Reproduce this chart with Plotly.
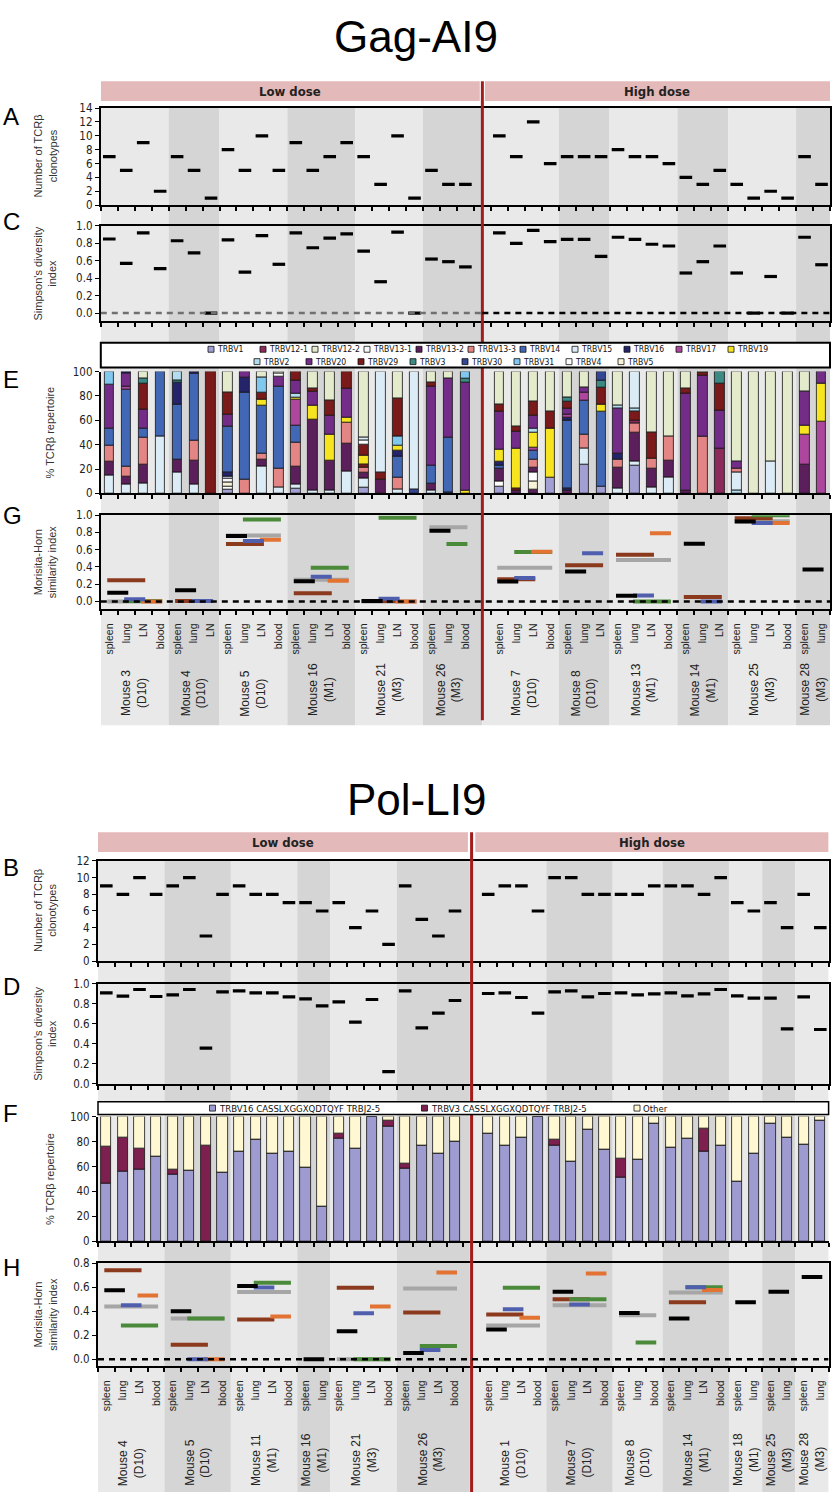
import plotly.graph_objects as go

# ======================= DATA =======================
TRBV_ROW1 = ["TRBV1", "TRBV12-1", "TRBV12-2", "TRBV13-1", "TRBV13-2", "TRBV13-3",
             "TRBV14", "TRBV15", "TRBV16", "TRBV17", "TRBV19"]
TRBV_ROW2 = ["TRBV2", "TRBV20", "TRBV29", "TRBV3", "TRBV30", "TRBV31", "TRBV4", "TRBV5"]

# ---- Gag-AI9 ----
gag_mice = ["Mouse 3", "Mouse 4", "Mouse 5", "Mouse 16", "Mouse 21", "Mouse 26",
            "Mouse 7", "Mouse 8", "Mouse 13", "Mouse 14", "Mouse 25", "Mouse 28"]
gag_times = ["D10", "D10", "D10", "M1", "M3", "M3", "D10", "D10", "M1", "M1", "M3", "M3"]
gag_tissues = [["spleen", "lung", "LN", "blood"], ["spleen", "lung", "LN"],
               ["spleen", "lung", "LN", "blood"], ["spleen", "lung", "LN", "blood"],
               ["spleen", "lung", "LN", "blood"], ["spleen", "lung", "blood"],
               ["spleen", "lung", "LN", "blood"], ["spleen", "lung", "LN"],
               ["spleen", "lung", "LN", "blood"], ["spleen", "lung", "LN"],
               ["spleen", "lung", "LN", "blood"], ["spleen", "lung"]]
gag_n_low = 6

gag_clonotypes = [7, 5, 9, 2, 7, 5, 1, 8, 5, 10, 5, 9, 5, 7, 9, 7, 3, 10, 1, 5, 3, 3,
                  10, 7, 12, 6, 7, 7, 7, 8, 7, 7, 6, 4, 3, 5, 3, 1, 2, 1, 7, 3]
gag_simpson = [0.85, 0.57, 0.92, 0.51, 0.83, 0.69, 0.0, 0.84, 0.47, 0.89, 0.56,
               0.92, 0.75, 0.86, 0.91, 0.71, 0.36, 0.93, 0.0, 0.62, 0.59, 0.53,
               0.92, 0.80, 0.95, 0.82, 0.845, 0.845, 0.65, 0.87, 0.845, 0.79, 0.77,
               0.46, 0.59, 0.77, 0.46, 0.0, 0.42, 0.0, 0.87, 0.555]

# stacked TRBV usage per sample: (TRBV family, cumulative top %) from bottom to top
gag_repertoire = [
    [("TRBV15", 15), ("TRBV13-2", 26), ("TRBV13-3", 39), ("TRBV14", 53), ("TRBV20", 89), ("TRBV31", 100)],
    [("TRBV15", 7), ("TRBV13-2", 14), ("TRBV13-3", 22), ("TRBV14", 85), ("TRBV17", 88), ("TRBV20", 98), ("TRBV16", 100)],
    [("TRBV15", 8), ("TRBV13-2", 24), ("TRBV13-3", 46), ("TRBV14", 53), ("TRBV20", 69), ("TRBV29", 90), ("TRBV3", 94), ("TRBV12-2", 100)],
    [("TRBV15", 47), ("TRBV14", 100)],
    [("TRBV15", 17), ("TRBV13-2", 28), ("TRBV14", 73), ("TRBV16", 91), ("TRBV3", 93), ("TRBV2", 100)],
    [("TRBV15", 7), ("TRBV13-2", 27), ("TRBV13-3", 43), ("TRBV14", 98), ("TRBV16", 100)],
    [("TRBV29", 100)],
    [("TRBV1", 3), ("TRBV4", 6), ("TRBV5", 9), ("TRBV13-1", 12), ("TRBV15", 14), ("TRBV16", 17), ("TRBV14", 55), ("TRBV20", 65), ("TRBV29", 83), ("TRBV12-2", 100)],
    [("TRBV13-3", 11), ("TRBV14", 83), ("TRBV16", 95), ("TRBV20", 100)],
    [("TRBV15", 22), ("TRBV13-2", 28), ("TRBV13-3", 33), ("TRBV14", 72), ("TRBV19", 77), ("TRBV29", 83), ("TRBV31", 95), ("TRBV12-2", 100)],
    [("TRBV15", 5), ("TRBV13-3", 20), ("TRBV14", 88), ("TRBV20", 96), ("TRBV4", 98), ("TRBV12-2", 100)],
    [("TRBV1", 4), ("TRBV15", 7), ("TRBV13-2", 22), ("TRBV13-3", 42), ("TRBV14", 56), ("TRBV17", 77), ("TRBV19", 79), ("TRBV2", 82), ("TRBV20", 93), ("TRBV29", 100)],
    [("TRBV15", 2), ("TRBV13-2", 61), ("TRBV19", 72), ("TRBV20", 84), ("TRBV29", 86), ("TRBV12-2", 100)],
    [("TRBV15", 2), ("TRBV13-2", 27), ("TRBV19", 48), ("TRBV20", 64), ("TRBV29", 76), ("TRBV12-2", 100)],
    [("TRBV15", 18), ("TRBV13-2", 41), ("TRBV13-3", 58), ("TRBV19", 62), ("TRBV20", 86), ("TRBV29", 100)],
    [("TRBV1", 5), ("TRBV15", 12), ("TRBV13-2", 17), ("TRBV13-3", 21), ("TRBV29", 24), ("TRBV19", 31), ("TRBV29", 40), ("TRBV4", 43), ("TRBV15", 46), ("TRBV12-2", 100)],
    [("TRBV13-2", 11), ("TRBV29", 17), ("TRBV15", 100)],
    [("TRBV15", 3), ("TRBV13-3", 13), ("TRBV14", 30), ("TRBV16", 35), ("TRBV19", 39), ("TRBV31", 47), ("TRBV29", 78), ("TRBV12-2", 100)],
    [("TRBV30", 3), ("TRBV15", 100)],
    [("TRBV15", 2), ("TRBV13-2", 8), ("TRBV14", 23), ("TRBV20", 88), ("TRBV29", 91), ("TRBV12-2", 100)],
    [("TRBV30", 1), ("TRBV14", 46), ("TRBV20", 94), ("TRBV12-2", 100)],
    [("TRBV19", 2), ("TRBV20", 91), ("TRBV3", 94), ("TRBV31", 100)],
    # high dose
    [("TRBV1", 5.5), ("TRBV4", 10), ("TRBV13-2", 20), ("TRBV14", 23), ("TRBV16", 26), ("TRBV19", 36), ("TRBV20", 67), ("TRBV29", 73), ("TRBV12-2", 100)],
    [("TRBV13-2", 2), ("TRBV29", 4), ("TRBV19", 37), ("TRBV20", 51), ("TRBV29", 55), ("TRBV12-2", 100)],
    [("TRBV13-2", 3), ("TRBV5", 10), ("TRBV4", 17), ("TRBV13-2", 21), ("TRBV13-3", 28), ("TRBV14", 35), ("TRBV17", 38), ("TRBV19", 50), ("TRBV2", 53), ("TRBV20", 64), ("TRBV29", 75), ("TRBV12-2", 100)],
    [("TRBV1", 13), ("TRBV19", 53), ("TRBV29", 67), ("TRBV12-2", 100)],
    [("TRBV13-2", 2), ("TRBV16", 4), ("TRBV14", 60), ("TRBV16", 62), ("TRBV17", 65), ("TRBV20", 70), ("TRBV29", 75), ("TRBV3", 79), ("TRBV12-2", 100)],
    [("TRBV1", 24), ("TRBV15", 37), ("TRBV13-3", 48), ("TRBV14", 76), ("TRBV17", 83), ("TRBV20", 87), ("TRBV12-2", 100)],
    [("TRBV1", 6), ("TRBV14", 67), ("TRBV19", 73), ("TRBV29", 87), ("TRBV3", 93), ("TRBV30", 100)],
    [("TRBV15", 4), ("TRBV13-2", 21), ("TRBV13-3", 28), ("TRBV16", 33), ("TRBV20", 70), ("TRBV2", 72), ("TRBV12-2", 100)],
    [("TRBV1", 23), ("TRBV15", 26), ("TRBV13-2", 50), ("TRBV13-3", 57), ("TRBV12-1", 60), ("TRBV29", 67), ("TRBV2", 70), ("TRBV15", 100)],
    [("TRBV15", 5), ("TRBV13-2", 20), ("TRBV13-3", 29), ("TRBV29", 50), ("TRBV12-2", 100)],
    [("TRBV15", 13), ("TRBV13-2", 27), ("TRBV13-3", 47), ("TRBV12-2", 100)],
    [("TRBV13-2", 2), ("TRBV20", 82), ("TRBV29", 86), ("TRBV12-2", 100)],
    [("TRBV13-3", 47), ("TRBV20", 97), ("TRBV29", 99), ("TRBV12-2", 100)],
    [("TRBV12-1", 37), ("TRBV20", 68), ("TRBV29", 90), ("TRBV3", 100)],
    [("TRBV2", 2), ("TRBV15", 17), ("TRBV13-3", 20), ("TRBV20", 26), ("TRBV12-2", 100)],
    [("TRBV12-2", 100)],
    [("TRBV15", 26), ("TRBV12-2", 100)],
    [("TRBV12-2", 100)],
    [("TRBV13-2", 24), ("TRBV17", 48), ("TRBV19", 56), ("TRBV20", 84), ("TRBV12-2", 100)],
    [("TRBV17", 59), ("TRBV19", 90), ("TRBV20", 100)],
]

# Morisita-Horn similarity between tissue pairs, per mouse
gag_morisita = [
    [("spleen", "lung", 0.10), ("spleen", "LN", 0.245), ("spleen", "blood", 0.0), ("lung", "LN", 0.025), ("lung", "blood", 0.005), ("LN", "blood", 0.0)],
    [("spleen", "lung", 0.13), ("spleen", "LN", 0.005), ("lung", "LN", 0.005)],
    [("spleen", "lung", 0.76), ("spleen", "LN", 0.665), ("spleen", "blood", 0.765), ("lung", "LN", 0.70), ("lung", "blood", 0.95), ("LN", "blood", 0.715)],
    [("spleen", "lung", 0.235), ("spleen", "LN", 0.095), ("spleen", "blood", 0.25), ("lung", "LN", 0.285), ("lung", "blood", 0.39), ("LN", "blood", 0.24)],
    [("spleen", "lung", 0.005), ("spleen", "LN", 0.005), ("spleen", "blood", 0.0), ("lung", "LN", 0.03), ("lung", "blood", 0.97), ("LN", "blood", 0.0)],
    [("spleen", "lung", 0.82), ("spleen", "blood", 0.86), ("lung", "blood", 0.665)],
    [("spleen", "lung", 0.23), ("spleen", "LN", 0.256), ("spleen", "blood", 0.39), ("lung", "LN", 0.27), ("lung", "blood", 0.573), ("LN", "blood", 0.577)],
    [("spleen", "lung", 0.347), ("spleen", "LN", 0.42), ("lung", "LN", 0.56)],
    [("spleen", "lung", 0.065), ("spleen", "LN", 0.54), ("spleen", "blood", 0.48), ("lung", "LN", 0.068), ("lung", "blood", 0.0), ("LN", "blood", 0.79)],
    [("spleen", "lung", 0.668), ("spleen", "LN", 0.05), ("lung", "LN", 0.0)],
    [("spleen", "lung", 0.927), ("spleen", "LN", 0.966), ("spleen", "blood", 0.93), ("lung", "LN", 0.91), ("lung", "blood", 1.0), ("LN", "blood", 0.91)],
    [("spleen", "lung", 0.37)],
]

# ---- Pol-LI9 ----
pol_mice = ["Mouse 4", "Mouse 5", "Mouse 11", "Mouse 16", "Mouse 21", "Mouse 26",
            "Mouse 1", "Mouse 7", "Mouse 8", "Mouse 14", "Mouse 18", "Mouse 25", "Mouse 28"]
pol_times = ["D10", "D10", "M1", "M1", "M3", "M3", "D10", "D10", "D10", "M1", "M1", "M3", "M3"]
pol_tissues = [["spleen", "lung", "LN", "blood"], ["spleen", "lung", "LN", "blood"],
               ["spleen", "lung", "LN", "blood"], ["spleen", "lung"],
               ["spleen", "lung", "LN", "blood"], ["spleen", "lung", "LN", "blood"],
               ["spleen", "lung", "LN", "blood"], ["spleen", "lung", "LN", "blood"],
               ["spleen", "lung", "blood"], ["spleen", "lung", "LN", "blood"],
               ["spleen", "lung"], ["spleen", "lung"], ["spleen", "lung"]]
pol_n_low = 6

pol_clonotypes = [9, 8, 10, 8, 9, 10, 3, 8, 9, 8, 8, 7, 7, 6, 7, 4, 6, 2, 9, 5, 3, 6,
                  8, 9, 9, 6, 10, 10, 8, 8, 8, 8, 9, 9, 9, 8, 10, 7, 6, 7, 4, 8, 4]
pol_simpson = [0.91, 0.877, 0.943, 0.873, 0.89, 0.943, 0.357, 0.92, 0.93, 0.91, 0.91,
               0.87, 0.85, 0.78, 0.82, 0.617, 0.843, 0.123, 0.93, 0.56, 0.707, 0.833,
               0.903, 0.91, 0.863, 0.707, 0.92, 0.93, 0.87, 0.903, 0.91, 0.89, 0.90,
               0.91, 0.88, 0.90, 0.943, 0.88, 0.857, 0.857, 0.55, 0.87, 0.543]
pol_trbv16_pct = [46.4, 56, 57.8, 68.2, 53.3, 57, 0, 55, 72, 81.4, 70.3, 72, 59, 28, 82,
                  74, 100, 92, 58, 76.7, 70.3, 79.6,
                  86.5, 77, 83, 100, 76.4, 64, 89.7, 73.2, 51.2, 65.8, 94.7, 74.8, 82,
                  72, 76.4, 48, 70, 94.7, 83, 77.2, 96.8]
pol_trbv3_pct = [29.7, 26.8, 16.5, 0, 4.3, 0, 77, 0, 0, 0, 0, 0, 0, 0, 4, 0, 0, 4.5, 4,
                 0, 0, 0,
                 0, 0, 0, 0, 5, 0, 0, 0, 14.8, 0, 0, 0, 0, 18.7, 0, 0, 0, 0, 0, 0, 0]
pol_legend = ["TRBV16 CASSLXGGXQDTQYF TRBJ2-5", "TRBV3 CASSLXGGXQDTQYF TRBJ2-5", "Other"]

pol_morisita = [
    [("spleen", "lung", 0.575), ("spleen", "LN", 0.74), ("spleen", "blood", 0.44), ("lung", "LN", 0.45), ("lung", "blood", 0.28), ("LN", "blood", 0.53)],
    [("spleen", "lung", 0.40), ("spleen", "LN", 0.12), ("spleen", "blood", 0.34), ("lung", "LN", 0.0), ("lung", "blood", 0.34), ("LN", "blood", 0.0)],
    [("spleen", "lung", 0.61), ("spleen", "LN", 0.33), ("spleen", "blood", 0.56), ("lung", "LN", 0.597), ("lung", "blood", 0.637), ("LN", "blood", 0.355)],
    [("spleen", "lung", 0.0)],
    [("spleen", "lung", 0.234), ("spleen", "LN", 0.596), ("spleen", "blood", 0.0), ("lung", "LN", 0.383), ("lung", "blood", 0.0), ("LN", "blood", 0.44)],
    [("spleen", "lung", 0.052), ("spleen", "LN", 0.39), ("spleen", "blood", 0.59), ("lung", "LN", 0.077), ("lung", "blood", 0.11), ("LN", "blood", 0.723)],
    [("spleen", "lung", 0.248), ("spleen", "LN", 0.372), ("spleen", "blood", 0.28), ("lung", "LN", 0.417), ("lung", "blood", 0.596), ("LN", "blood", 0.345)],
    [("spleen", "lung", 0.563), ("spleen", "LN", 0.50), ("spleen", "blood", 0.45), ("lung", "LN", 0.455), ("lung", "blood", 0.50), ("LN", "blood", 0.714)],
    [("spleen", "lung", 0.386), ("spleen", "blood", 0.367), ("lung", "blood", 0.14)],
    [("spleen", "lung", 0.34), ("spleen", "LN", 0.474), ("spleen", "blood", 0.555), ("lung", "LN", 0.60), ("lung", "blood", 0.60), ("LN", "blood", 0.577)],
    [("spleen", "lung", 0.474)],
    [("spleen", "lung", 0.563)],
    [("spleen", "lung", 0.684)],
]

# ======================= STYLE =======================
W, H = 832, 1499
FONT = "Liberation Sans, Arial, sans-serif"
NARROW = "Liberation Sans Narrow, Arial Narrow, DejaVu Sans Condensed, sans-serif"
TRBV_COLORS = {
    "TRBV1": "#a29fd2", "TRBV12-1": "#8d2a5c", "TRBV12-2": "#e4ebcc", "TRBV13-1": "#f7f7f7",
    "TRBV13-2": "#5b1f5b", "TRBV13-3": "#e38585", "TRBV14": "#4268b5", "TRBV15": "#dcecf6",
    "TRBV16": "#25246b", "TRBV17": "#ad479e", "TRBV19": "#f7e421", "TRBV2": "#b3dcef",
    "TRBV20": "#732c88", "TRBV29": "#7a1a1a", "TRBV3": "#3d8a84", "TRBV30": "#344595",
    "TRBV31": "#80c8ee", "TRBV4": "#ffffff", "TRBV5": "#f8f2d6",
}
POL_COLORS = ["#9d9bd0", "#7d2050", "#fff8d2"]
PAIR_COLORS = {("spleen", "blood"): "#a6a6a6", ("spleen", "LN"): "#8b3a1e",
               ("lung", "blood"): "#4b8a3b", ("LN", "blood"): "#e27333",
               ("lung", "LN"): "#4f5fae", ("spleen", "lung"): "#000000"}
PAIR_ORDER = [("spleen", "blood"), ("spleen", "LN"), ("lung", "blood"),
              ("LN", "blood"), ("lung", "LN"), ("spleen", "lung")]
LIGHT_BG, DARK_BG = "#e9e9e9", "#d5d5d5"
RED = "#a31c1c"


def fy(px):
    return 1 - px / H


def fx(px):
    return px / W


def ann(text, x, y, xref="paper", yref="paper", xanchor="center", yanchor="middle", **kw):
    d = dict(text=text, x=x, y=y, xref=xref, yref=yref, xanchor=xanchor, yanchor=yanchor,
             showarrow=False)
    d.update(kw)
    return d


def build_slots(tissues, n_low):
    slots, groups, s = [], [], 0
    for m, ts in enumerate(tissues):
        if m == n_low:
            s += 1  # gap at the dose divider
        start = s
        for _ in ts:
            slots.append(s)
            s += 1
        groups.append((start, s - 1))
    return slots, groups, s


fig = go.Figure()
shapes, annotations = [], []

charts = [
    dict(name="Gag-AI9", title_y=30, mice=gag_mice, times=gag_times, tissues=gag_tissues,
         n_low=gag_n_low, xdom=(100.8, 830), gap=0.5, band=(75, 95), bg=(102, 725),
         red=(75, 720), mouse_bottom=718, axes=[1, 2, 3, 4],
         letters=["A", "C", "E", "G"],
         panels=[dict(kind="count", top=102, bot=200, rng=[0, 14], ticks=list(range(0, 15, 2)),
                      title="Number of TCRβ<br>clonotypes", data=gag_clonotypes, letter_y=111),
                 dict(kind="simpson", top=221, bot=317, rng=[-0.091, 1.0],
                      ticks=[0, 0.2, 0.4, 0.6, 0.8, 1.0], title="Simpson's diversity<br>index",
                      data=gag_simpson, letter_y=217, zero=True),
                 dict(kind="trbv", top=368, bot=491, rng=[0, 100], ticks=list(range(0, 101, 20)),
                      title="% TCRβ repertoire", data=gag_repertoire, letter_y=376,
                      legend=(339, 364)),
                 dict(kind="mh", top=513, bot=608, rng=[-0.092, 1.0],
                      ticks=[0, 0.2, 0.4, 0.6, 0.8, 1.0], title="Morisita-Horn<br>similarity index",
                      data=gag_morisita, letter_y=513, zero=True)]),
    dict(name="Pol-LI9", title_y=800, mice=pol_mice, times=pol_times, tissues=pol_tissues,
         n_low=pol_n_low, xdom=(98, 828.6), gap=0.38, band=(833, 853), bg=(862, 1499),
         red=(833, 1499), mouse_bottom=1495, axes=[5, 6, 7, 8],
         letters=["B", "D", "F", "H"],
         panels=[dict(kind="count", top=862, bot=963, rng=[0, 12], ticks=list(range(0, 13, 2)),
                      title="Number of TCRβ<br>clonotypes", data=pol_clonotypes, letter_y=869),
                 dict(kind="simpson", top=986, bot=1087, rng=[0, 1.0],
                      ticks=[0, 0.2, 0.4, 0.6, 0.8, 1.0], title="Simpson's diversity<br>index",
                      data=pol_simpson, letter_y=989),
                 dict(kind="pol", top=1120, bot=1246, rng=[0, 100], ticks=list(range(0, 101, 20)),
                      title="% TCRβ repertoire", data=None, letter_y=1117, legend=(1105, 1118)),
                 dict(kind="mh", top=1268, bot=1372, rng=[-0.0577, 0.8],
                      ticks=[0, 0.2, 0.4, 0.6, 0.8], title="Morisita-Horn<br>similarity index",
                      data=pol_morisita, letter_y=1272, zero=True)]),
]

layout_axes = {}
for ch in charts:
    slots, groups, nslots = build_slots(ch["tissues"], ch["n_low"])
    xr = [-0.5, nslots - 0.5]
    bounds = [i - 0.5 for i in range(nslots + 1)]
    divider = groups[ch["n_low"]][0] - 1
    x_main = "x" if ch["axes"][0] == 1 else "x%d" % ch["axes"][0]

    annotations.append(ann(ch["name"], 0.5, fy(ch["title_y"]),
                           font=dict(family=FONT, size=44, color="#000")))
    # background stripes per mouse
    for m, (a, b) in enumerate(groups):
        x0, x1 = a - 0.5, b + 0.5
        if m == ch["n_low"] - 1:
            x1 = divider + 0.5 - ch["gap"]
        if m == ch["n_low"]:
            x0 = divider - 0.5 + ch["gap"]
        col = LIGHT_BG if (m - (0 if m < ch["n_low"] else ch["n_low"])) % 2 == 0 else DARK_BG
        shapes.append(dict(type="rect", xref=x_main, yref="paper", x0=x0, x1=x1,
                           y0=fy(ch["bg"][1]), y1=fy(ch["bg"][0]), fillcolor=col,
                           line=dict(width=0), layer="below"))
    # dose bands
    off = 0.15 + (0.5 - ch["gap"]) * 0.6
    for lab, x0, x1 in [("Low dose", -0.5, divider - off),
                        ("High dose", divider + off, nslots - 0.5)]:
        shapes.append(dict(type="rect", xref=x_main, yref="paper", x0=x0, x1=x1,
                           y0=fy(ch["band"][1]), y1=fy(ch["band"][0]), fillcolor="#e3b9b9",
                           line=dict(width=0), layer="below"))
        annotations.append(ann("<b>%s</b>" % lab, (x0 + x1) / 2,
                               fy((ch["band"][0] + ch["band"][1]) / 2), xref=x_main,
                               font=dict(family=NARROW, size=13, color="#222")))
    # red divider
    shapes.append(dict(type="line", xref=x_main, yref="paper", x0=divider, x1=divider,
                       y0=fy(ch["red"][1]), y1=fy(ch["red"][0]), line=dict(color=RED, width=3),
                       layer="above"))

    for p_i, (p, ax) in enumerate(zip(ch["panels"], ch["axes"])):
        xa = "xaxis" if ax == 1 else "xaxis%d" % ax
        ya = "yaxis" if ax == 1 else "yaxis%d" % ax
        xref = "x" if ax == 1 else "x%d" % ax
        yref = "y" if ax == 1 else "y%d" % ax
        boxed = p["kind"] in ("count", "simpson", "mh")
        last = p_i == 3
        xaxis = dict(domain=[fx(ch["xdom"][0]), fx(ch["xdom"][1])], range=xr, anchor=yref,
                     showgrid=False, zeroline=False, showline=True, linecolor="#000",
                     linewidth=2, mirror=boxed, fixedrange=True)
        if last:
            xaxis.update(tickmode="array", tickvals=slots,
                         ticktext=[t for ts in ch["tissues"] for t in ts], ticks="",
                         tickangle=-90, ticklabelstandoff=8,
                         tickfont=dict(family=FONT, size=10.5, color="#222"),
                         minor=dict(tickmode="array", tickvals=bounds, ticks="outside",
                                    ticklen=4, tickwidth=1.5, tickcolor="#000"))
        else:
            xaxis.update(tickmode="array", tickvals=bounds, ticks="outside", ticklen=4,
                         tickwidth=1.5, tickcolor="#000", showticklabels=False)
        layout_axes[xa] = xaxis
        layout_axes[ya] = dict(domain=[fy(p["bot"]), fy(p["top"])], range=p["rng"], anchor=xref,
                               showgrid=False, zeroline=False, showline=True, linecolor="#000",
                               linewidth=2, mirror=boxed, ticks="outside", ticklen=4,
                               tickwidth=1.2, tickcolor="#000", tickmode="array",
                               tickvals=p["ticks"],
                               tickformat=".1f" if p["kind"] in ("simpson", "mh") else "d",
                               tickfont=dict(family=NARROW, size=11.5, color="#222"),
                               fixedrange=True)
        annotations.append(ann(ch["letters"][p_i], fx(1), fy(p["letter_y"]), xanchor="left",
                               font=dict(family=FONT, size=24, color="#000")))
        annotations.append(ann(p["title"], fx(45 if "<br>" in p["title"] else 50),
                               fy((p["top"] + p["bot"]) / 2), textangle=-90,
                               font=dict(family=FONT, size=11, color="#333")))

        if p["kind"] in ("count", "simpson"):
            fig.add_trace(go.Scatter(x=slots, y=p["data"], mode="markers", xaxis=xref, yaxis=yref,
                                     marker=dict(symbol="line-ew", size=9,
                                                 line=dict(width=3.2, color="#000")),
                                     showlegend=False, hoverinfo="y"))
        elif p["kind"] == "trbv":
            segs = {}
            for s, stack in zip(slots, p["data"]):
                base = 0
                for fam, top in stack:
                    segs.setdefault(fam, ([], [], []))
                    segs[fam][0].append(s)
                    segs[fam][1].append(top - base)
                    segs[fam][2].append(base)
                    base = top
            for fam in TRBV_ROW1 + TRBV_ROW2:
                if fam not in segs:
                    continue
                xs, hs, bs = segs[fam]
                fig.add_trace(go.Bar(x=xs, y=hs, base=bs, width=0.56, name=fam,
                                     marker=dict(color=TRBV_COLORS[fam],
                                                 line=dict(color="#111", width=0.8)),
                                     xaxis=xref, yaxis=yref, showlegend=False))
            ly0, ly1 = p["legend"]
            shapes.append(dict(type="rect", xref="paper", yref="paper",
                               x0=fx(ch["xdom"][0]), x1=fx(ch["xdom"][1]),
                               y0=fy(ly1), y1=fy(ly0), fillcolor="#fff",
                               line=dict(color="#000", width=2), layer="above"))
            for row, start, yc in [(TRBV_ROW1, 208, 345.5), (TRBV_ROW2, 254, 358)]:
                for k, fam in enumerate(row):
                    x0 = start + k * 52
                    shapes.append(dict(type="rect", xref="paper", yref="paper",
                                       x0=fx(x0), x1=fx(x0 + 6), y0=fy(yc + 3), y1=fy(yc - 3),
                                       fillcolor=TRBV_COLORS[fam],
                                       line=dict(color="#111", width=0.8), layer="above"))
                    annotations.append(ann(fam, fx(x0 + 7), fy(yc), xanchor="left",
                                           font=dict(family=NARROW, size=8.6, color="#111")))
        elif p["kind"] == "pol":
            other = [100 - a - b for a, b in zip(pol_trbv16_pct, pol_trbv3_pct)]
            base = [0] * len(slots)
            for vals, col, nm in zip([pol_trbv16_pct, pol_trbv3_pct, other], POL_COLORS, pol_legend):
                fig.add_trace(go.Bar(x=slots, y=vals, base=base, width=0.62, name=nm,
                                     marker=dict(color=col, line=dict(color="#111", width=0.8)),
                                     xaxis=xref, yaxis=yref, showlegend=False))
                base = [b + v for b, v in zip(base, vals)]
            ly0, ly1 = p["legend"]
            shapes.append(dict(type="rect", xref="paper", yref="paper",
                               x0=fx(ch["xdom"][0]), x1=fx(ch["xdom"][1]),
                               y0=fy(ly1), y1=fy(ly0), fillcolor="#fff",
                               line=dict(color="#000", width=1.5), layer="above"))
            for k, (nm, col) in enumerate(zip(pol_legend, POL_COLORS)):
                x0 = [209.5, 421.5, 634][k]
                yc = (ly0 + ly1) / 2
                shapes.append(dict(type="rect", xref="paper", yref="paper",
                                   x0=fx(x0), x1=fx(x0 + 6), y0=fy(yc + 3), y1=fy(yc - 3),
                                   fillcolor=col, line=dict(color="#111", width=0.8),
                                   layer="above"))
                annotations.append(ann(nm, fx(x0 + 7), fy(yc), xanchor="left",
                                       font=dict(family=NARROW, size=9.5, color="#111")))
        elif p["kind"] == "mh":
            lines = {k: ([], []) for k in PAIR_ORDER}
            for (a, b), ts, vals in zip(groups, ch["tissues"], p["data"]):
                for t1, t2, v in vals:
                    s1 = a + ts.index(t1)
                    s2 = a + ts.index(t2)
                    lines[(t1, t2)][0].extend([s1 - 0.12, s2 + 0.12, None])
                    lines[(t1, t2)][1].extend([v, v, None])
            for k in PAIR_ORDER:
                fig.add_trace(go.Scatter(x=lines[k][0], y=lines[k][1], mode="lines",
                                         line=dict(color=PAIR_COLORS[k], width=4),
                                         xaxis=xref, yaxis=yref, showlegend=False,
                                         name="%s-%s" % k))
        if p.get("zero"):
            if p["kind"] == "simpson":
                segs_z = [(-0.5, divider, "#707070"), (divider, nslots - 0.5, "#000")]
            else:
                segs_z = [(-0.5, nslots - 0.5, "#000")]
            for x0, x1, col in segs_z:
                shapes.append(dict(type="line", xref=xref, yref=yref, x0=x0, x1=x1, y0=0, y1=0,
                                   line=dict(color=col, width=2.5, dash="6px,5px"),
                                   layer="above"))

    # mouse labels
    for (a, b), mname, tp in zip(groups, ch["mice"], ch["times"]):
        annotations.append(ann("%s<br>(%s)" % (mname, tp), (a + b) / 2, fy(ch["mouse_bottom"]),
                               xref="x%d" % ch["axes"][3], yanchor="bottom", textangle=-90,
                               align="center", font=dict(family=FONT, size=12, color="#222")))

fig.update_layout(width=W, height=H, margin=dict(l=0, r=0, t=0, b=0),
                  paper_bgcolor="#fff", plot_bgcolor="rgba(0,0,0,0)",
                  barmode="overlay", bargap=0, showlegend=False,
                  font=dict(family=FONT), shapes=shapes, annotations=annotations,
                  **layout_axes)

fig.write_html("out.html", post_script="document.body.style.margin='0';",
               config={"displayModeBar": False})
